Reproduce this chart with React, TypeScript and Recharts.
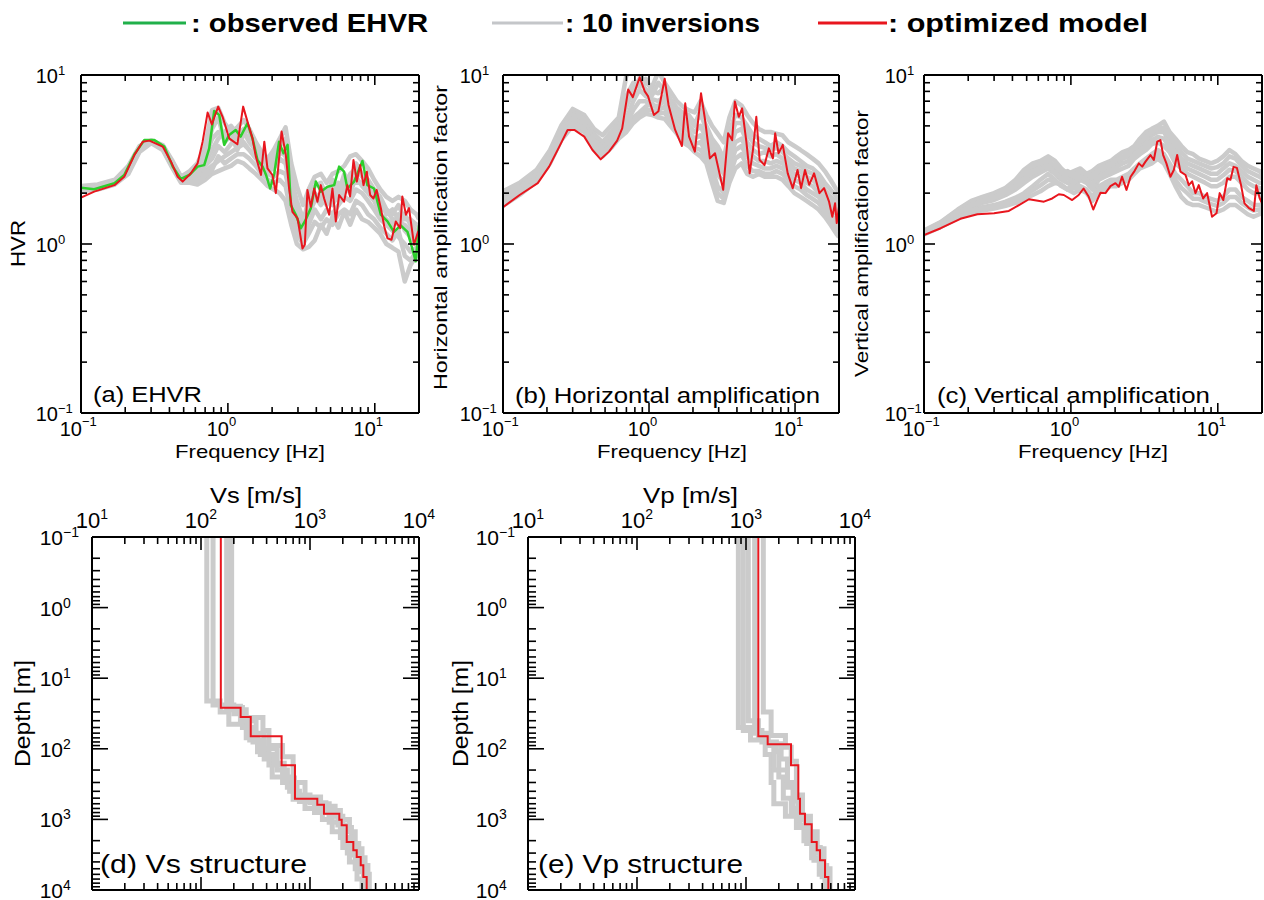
import React from "react";
import { LineChart, Line, XAxis, YAxis } from "recharts";

const FONT = '"Liberation Sans", Arial, Helvetica, sans-serif';
const RED = "#e8161e";
const GREEN = "#2ccf2c";
const GRAY = "#cbcbcb";
const frame = { stroke: "#000", strokeWidth: 2 };

// ---- tick values ----
const freqMajor = [0.1, 1, 10];
const freqTicks = [0.1, 0.2, 0.3, 0.4, 0.5, 0.6, 0.7, 0.8, 0.9, 1, 2, 3, 4, 5, 6, 7, 8, 9, 10, 20];
const ampMajor = [0.1, 1, 10];
const ampTicks = [0.1, 0.2, 0.3, 0.4, 0.5, 0.6, 0.7, 0.8, 0.9, 1, 2, 3, 4, 5, 6, 7, 8, 9, 10];
const velMajor = [10, 100, 1000, 10000];
const velTicks = [
  10, 20, 30, 40, 50, 60, 70, 80, 90, 100, 200, 300, 400, 500, 600, 700, 800, 900,
  1000, 2000, 3000, 4000, 5000, 6000, 7000, 8000, 9000, 10000,
];
const depthMajor = [0.1, 1, 10, 100, 1000, 10000];
const depthTicks = [
  0.1, 0.2, 0.3, 0.4, 0.5, 0.6, 0.7, 0.8, 0.9, 1, 2, 3, 4, 5, 6, 7, 8, 9,
  10, 20, 30, 40, 50, 60, 70, 80, 90, 100, 200, 300, 400, 500, 600, 700, 800, 900,
  1000, 2000, 3000, 4000, 5000, 6000, 7000, 8000, 9000, 10000,
];

// ---- (a) EHVR ----
const aObserved: [number, number][] = [
  [0.1, 2.15], [0.123, 2.11], [0.169, 2.29], [0.197, 2.56], [0.231, 3.4], [0.27, 4.12], [0.316, 4.12],
  [0.369, 3.77], [0.421, 2.87], [0.479, 2.43], [0.546, 2.56], [0.622, 2.87], [0.69, 2.93], [0.746, 3.68],
  [0.807, 6.12], [0.873, 5.8], [0.944, 3.86], [1.02, 4.42], [1.13, 4.73], [1.22, 4.32], [1.36, 5.18],
  [1.47, 4.22], [1.59, 3.14], [1.72, 2.87], [1.82, 2.56], [1.94, 2.13], [2.07, 2.62], [2.23, 4.03],
  [2.39, 3.44], [2.55, 3.86], [2.68, 1.7], [2.9, 1.49], [3.14, 1.24], [3.34, 1.36], [3.67, 1.63],
  [3.97, 2.34], [4.29, 2.04], [4.76, 2.18], [5.29, 2.23], [5.72, 2.87], [6.18, 2.68], [6.51, 2.13],
  [7.23, 2.34], [8.24, 3.1], [8.91, 2.23], [9.89, 2.13], [11.0, 1.49], [12.2, 1.36], [13.5, 1.18],
  [15.0, 1.29], [16.7, 1.18], [18.0, 0.94], [19.0, 0.79], [20, 1.29],
];
const aOptimized: [number, number][] = [
  [0.1, 1.88], [0.123, 2.04], [0.169, 2.23], [0.197, 2.5], [0.231, 3.36], [0.263, 4.03], [0.292, 4.09],
  [0.36, 3.77], [0.41, 3.07], [0.455, 2.5], [0.492, 2.34], [0.56, 2.62], [0.622, 3.0], [0.673, 4.03],
  [0.728, 6.0], [0.778, 5.1], [0.859, 6.5], [0.92, 5.66], [1.02, 4.22], [1.16, 3.89], [1.27, 6.5],
  [1.36, 5.3], [1.47, 4.22], [1.55, 3.29], [1.68, 2.56], [1.77, 4.03], [1.86, 2.8], [2.01, 2.56],
  [2.12, 2.0], [2.32, 4.63], [2.48, 3.36], [2.61, 2.13], [2.75, 1.55], [2.98, 1.42], [3.22, 0.94],
  [3.34, 0.99], [3.48, 2.09], [3.67, 1.66], [3.87, 2.13], [4.07, 1.78], [4.29, 2.23], [4.52, 1.86],
  [4.89, 1.49], [5.15, 2.13], [5.43, 1.36], [5.72, 1.95], [6.18, 1.78], [6.51, 2.23], [6.79, 1.91],
  [7.16, 3.14], [7.55, 2.34], [7.95, 2.93], [8.38, 2.23], [8.83, 2.68], [9.3, 1.95], [9.8, 1.86],
  [10.3, 2.09], [11.0, 1.63], [11.6, 1.27], [12.2, 1.08], [13.0, 1.06], [13.9, 1.36], [14.9, 1.24],
  [15.4, 1.91], [16.3, 1.49], [17.1, 1.63], [18.5, 0.99], [19.7, 1.18], [20, 1.2],
];

// frequencies shared by the gray inversion curves
const invFreq = [
  0.1, 0.13, 0.17, 0.21, 0.25, 0.3, 0.36, 0.42, 0.48, 0.55, 0.62, 0.7, 0.78, 0.86, 0.95, 1.05,
  1.16, 1.28, 1.4, 1.55, 1.7, 1.87, 2.05, 2.25, 2.47, 2.7, 2.95, 3.25, 3.55, 3.9, 4.3, 4.7,
  5.15, 5.65, 6.2, 6.8, 7.45, 8.2, 9.0, 9.9, 10.9, 12.0, 13.2, 14.5, 16.0, 17.5, 19.2, 20,
];

const aInversions = [
  [2.2, 2.25, 2.4, 2.9, 3.8, 4.1, 3.85, 3.1, 2.5, 2.7, 3.0, 3.8, 6.2, 6.4, 5.2, 4.6, 4.9, 5.4, 4.8, 4.0,
    3.5, 3.2, 3.6, 4.2, 4.9, 3.0, 2.2, 1.7, 2.1, 2.5, 2.6, 2.3, 2.6, 2.7, 2.9, 3.3, 3.4, 3.1, 2.8, 2.4,
    2.1, 1.9, 1.8, 1.9, 1.8, 1.6, 1.5, 1.4],
  [2.15, 2.2, 2.35, 2.8, 3.7, 4.05, 3.8, 3.0, 2.45, 2.55, 2.7, 3.0, 3.6, 4.2, 4.6, 5.0, 4.4, 4.8, 4.6, 3.8,
    3.2, 2.9, 3.1, 3.4, 3.6, 2.4, 1.8, 1.4, 1.7, 2.0, 1.8, 2.1, 1.9, 2.3, 2.2, 2.6, 2.8, 2.5, 2.3, 2.0,
    1.8, 1.5, 1.6, 1.4, 1.5, 1.3, 1.2, 1.25],
  [2.1, 2.15, 2.3, 2.7, 3.6, 4.0, 3.7, 2.9, 2.4, 2.4, 2.5, 2.7, 2.9, 3.1, 3.3, 3.5, 3.7, 3.9, 3.6, 3.2,
    2.9, 2.6, 2.5, 2.7, 2.6, 1.8, 1.3, 1.1, 1.3, 1.6, 1.4, 1.6, 1.5, 1.7, 1.9, 1.8, 2.1, 2.0, 1.8, 1.6,
    1.4, 1.3, 1.2, 1.1, 1.0, 0.9, 0.95, 1.0],
  [2.05, 2.1, 2.25, 2.6, 3.5, 3.95, 3.6, 2.8, 2.3, 2.3, 2.25, 2.4, 2.6, 2.7, 2.8, 2.9, 3.1, 3.0, 2.8, 2.6,
    2.4, 2.2, 2.1, 2.0, 1.8, 1.3, 1.0, 0.93, 0.96, 1.05, 1.3, 1.15, 1.45, 1.25, 1.55, 1.3, 1.6, 1.4, 1.35, 1.25,
    1.15, 1.0, 0.95, 0.9, 0.6, 0.75, 0.85, 0.9],
  [2.12, 2.18, 2.32, 2.75, 3.65, 4.0, 3.75, 2.95, 2.4, 2.5, 2.6, 2.9, 3.2, 3.8, 3.5, 3.9, 4.3, 4.0, 3.6, 3.3,
    3.0, 2.7, 2.8, 3.2, 3.0, 2.0, 1.5, 1.2, 1.5, 1.8, 2.0, 1.7, 2.1, 1.8, 2.3, 2.0, 2.5, 2.2, 2.0, 1.8,
    1.5, 1.4, 1.3, 1.5, 1.2, 1.1, 1.0, 1.1],
  [2.18, 2.22, 2.36, 2.85, 3.75, 4.08, 3.82, 3.05, 2.48, 2.65, 2.85, 3.4, 4.8, 5.6, 4.0, 4.4, 3.6, 4.5, 4.2, 3.5,
    3.3, 3.0, 3.3, 3.8, 4.2, 2.6, 1.6, 1.3, 1.9, 2.2, 2.3, 1.9, 2.4, 2.0, 2.6, 2.3, 3.0, 2.6, 2.4, 2.1,
    1.9, 1.6, 1.5, 1.7, 1.4, 1.4, 1.3, 1.3],
  [2.08, 2.12, 2.28, 2.65, 3.55, 3.98, 3.65, 2.85, 2.35, 2.35, 2.35, 2.55, 2.75, 3.3, 3.0, 3.2, 3.4, 3.4, 3.2, 2.9,
    2.6, 2.4, 2.3, 2.4, 2.2, 1.5, 1.15, 1.0, 1.15, 1.35, 1.25, 1.4, 1.3, 1.5, 1.6, 1.5, 1.8, 1.7, 1.5, 1.4,
    1.25, 1.15, 1.05, 1.2, 0.85, 0.8, 0.9, 0.95],
  [2.14, 2.2, 2.34, 2.78, 3.68, 4.02, 3.78, 2.98, 2.42, 2.45, 2.55, 3.2, 4.2, 4.6, 4.4, 4.2, 4.6, 4.6, 4.0, 3.6,
    3.1, 2.8, 3.0, 3.6, 3.3, 2.2, 1.7, 1.3, 1.6, 1.9, 1.7, 1.9, 1.7, 2.0, 2.0, 2.3, 2.3, 2.3, 2.1, 1.9,
    1.6, 1.6, 1.4, 1.3, 1.3, 1.2, 1.1, 1.2],
];

// ---- (b) horizontal amplification ----
const bOptimized: [number, number][] = [
  [0.1, 1.65], [0.13, 1.95], [0.173, 2.29], [0.207, 2.87], [0.243, 3.77], [0.277, 4.73], [0.308, 4.73],
  [0.36, 4.32], [0.41, 3.6], [0.467, 3.17], [0.532, 3.52], [0.605, 4.09], [0.655, 4.83], [0.72, 8.2],
  [0.775, 7.4], [0.863, 9.7], [0.935, 8.0], [0.984, 7.5], [1.08, 5.8], [1.16, 6.1], [1.28, 9.5],
  [1.36, 6.65], [1.51, 4.73], [1.68, 3.8], [1.77, 6.8], [1.88, 4.32], [2.06, 3.52], [2.27, 7.8],
  [2.42, 5.42], [2.61, 3.21], [2.83, 3.44], [3.22, 2.09], [3.48, 4.52], [3.71, 4.12], [3.87, 6.96],
  [4.12, 5.66], [4.34, 6.35], [4.64, 4.03], [4.89, 2.62], [5.15, 3.6], [5.43, 5.66], [5.72, 3.14],
  [6.18, 2.93], [6.62, 3.68], [7.05, 3.21], [7.31, 4.52], [7.71, 3.44], [8.24, 3.86], [8.91, 2.62],
  [9.64, 2.14], [10.4, 2.74], [11.0, 2.14], [11.7, 2.74], [12.5, 2.24], [13.5, 2.62], [14.7, 2.0],
  [15.8, 2.14], [17.1, 1.78], [18.0, 1.45], [18.8, 1.74], [19.3, 1.33], [20, 1.66],
];
const bInversions = [
  [2.05, 2.3, 2.75, 3.6, 5.0, 6.3, 5.8, 4.8, 4.4, 5.0, 5.6, 10, 10.5, 10, 9.0, 8.5, 10.5, 9.0, 8.0, 7.0,
    6.5, 6.2, 6.0, 7.0, 5.8, 5.0, 4.5, 4.0, 5.6, 7.0, 6.6, 5.8, 5.2, 4.8, 4.6, 4.6, 4.5, 4.4, 4.0, 3.8,
    3.6, 3.4, 3.2, 3.0, 2.7, 2.4, 2.1, 2.0],
  [1.95, 2.2, 2.65, 3.45, 4.8, 6.0, 5.6, 4.5, 4.0, 4.6, 5.2, 7.5, 9.0, 8.5, 9.5, 8.0, 7.8, 8.5, 7.2, 6.4,
    6.0, 5.8, 5.2, 5.8, 5.0, 4.2, 3.8, 3.2, 4.6, 5.8, 5.6, 5.0, 4.4, 4.2, 4.0, 3.8, 4.0, 3.8, 3.5, 3.3,
    3.1, 2.9, 2.8, 2.6, 2.3, 2.1, 1.9, 1.8],
  [1.85, 2.1, 2.55, 3.3, 4.6, 5.7, 5.4, 4.3, 3.9, 4.2, 4.6, 5.5, 7.0, 8.2, 7.5, 7.2, 7.0, 7.5, 6.5, 5.8,
    5.4, 5.0, 4.6, 5.0, 4.2, 3.6, 3.0, 2.6, 3.6, 4.6, 4.8, 4.0, 3.6, 3.4, 3.5, 3.3, 3.4, 3.2, 3.0, 2.8,
    2.7, 2.5, 2.4, 2.2, 2.0, 1.8, 1.6, 1.5],
  [1.75, 2.0, 2.45, 3.15, 4.4, 5.4, 5.0, 4.0, 3.6, 4.0, 4.5, 5.0, 5.6, 6.0, 6.5, 6.8, 6.2, 6.5, 5.6, 5.0,
    4.6, 4.2, 3.9, 4.0, 3.5, 2.8, 2.2, 2.0, 2.8, 3.6, 3.8, 3.3, 3.0, 2.9, 2.8, 2.8, 2.9, 2.8, 2.6, 2.4,
    2.3, 2.1, 2.0, 1.9, 1.7, 1.5, 1.35, 1.3],
  [1.68, 1.95, 2.35, 3.0, 4.1, 5.0, 4.6, 3.7, 3.3, 3.7, 4.2, 4.6, 5.2, 5.6, 5.9, 5.8, 5.6, 5.5, 5.0, 4.5,
    4.0, 3.8, 3.5, 3.3, 3.0, 2.3, 1.8, 1.75, 2.3, 2.8, 3.0, 2.6, 2.5, 2.6, 2.5, 2.5, 2.5, 2.4, 2.2, 2.0,
    1.9, 1.8, 1.7, 1.6, 1.45, 1.3, 1.15, 1.1],
  [1.9, 2.15, 2.6, 3.4, 4.7, 5.85, 5.5, 4.4, 3.95, 4.4, 4.9, 6.5, 8.0, 9.5, 8.2, 7.6, 9.0, 8.0, 6.8, 6.0,
    5.6, 5.4, 5.0, 6.2, 4.6, 3.9, 3.4, 2.9, 4.0, 5.2, 5.2, 4.5, 4.0, 3.8, 3.7, 3.6, 3.7, 3.5, 3.2, 3.0,
    2.9, 2.7, 2.6, 2.4, 2.1, 1.9, 1.75, 1.65],
  [1.8, 2.05, 2.5, 3.2, 4.5, 5.5, 5.2, 4.1, 3.75, 4.1, 4.6, 5.2, 6.2, 7.0, 7.0, 6.5, 6.6, 7.0, 6.0, 5.4,
    5.0, 4.6, 4.2, 4.4, 3.8, 3.2, 2.6, 2.3, 3.2, 4.0, 4.2, 3.6, 3.3, 3.1, 3.1, 3.0, 3.1, 3.0, 2.8, 2.6,
    2.5, 2.3, 2.2, 2.0, 1.85, 1.65, 1.5, 1.4],
  [1.72, 1.98, 2.4, 3.1, 4.25, 5.2, 4.8, 3.85, 3.45, 3.85, 4.3, 4.8, 5.4, 5.8, 6.2, 6.2, 5.9, 6.0, 5.3, 4.7,
    4.3, 4.0, 3.7, 3.6, 3.2, 2.5, 2.0, 1.85, 2.5, 3.2, 3.4, 2.9, 2.7, 2.7, 2.6, 2.6, 2.7, 2.6, 2.4, 2.2,
    2.1, 1.95, 1.85, 1.75, 1.55, 1.4, 1.25, 1.2],
];

// ---- (c) vertical amplification ----
const cOptimized: [number, number][] = [
  [0.1, 1.13], [0.13, 1.24], [0.177, 1.41], [0.231, 1.5], [0.3, 1.52], [0.378, 1.57], [0.443, 1.7],
  [0.518, 1.84], [0.655, 1.78], [0.746, 1.86], [0.828, 1.97], [0.895, 1.95], [1.02, 1.82], [1.13, 1.95],
  [1.22, 2.13], [1.32, 1.91], [1.42, 1.6], [1.51, 1.82], [1.59, 2.01], [1.72, 2.0], [1.86, 2.2],
  [2.01, 2.29], [2.12, 2.18], [2.23, 2.5], [2.39, 2.09], [2.55, 2.5], [2.71, 2.7], [2.9, 3.0],
  [3.06, 2.87], [3.22, 3.07], [3.48, 3.36], [3.67, 3.14], [3.87, 4.03], [4.07, 4.12], [4.25, 3.36],
  [4.47, 3.0], [4.76, 2.5], [5.02, 2.74], [5.29, 3.36], [5.57, 2.68], [6.03, 2.56], [6.35, 2.23],
  [6.69, 2.35], [7.05, 2.0], [7.42, 2.23], [7.95, 1.86], [8.46, 2.0], [9.14, 1.45], [9.8, 1.52],
  [10.3, 2.0], [10.9, 1.82], [11.6, 2.45], [12.2, 2.4], [12.8, 2.86], [13.5, 2.82], [14.4, 2.23],
  [15.2, 1.74], [16.3, 1.63], [17.6, 1.57], [18.3, 2.23], [19.3, 1.86], [20, 1.74],
];
const cInversions = [
  [1.2, 1.35, 1.6, 1.8, 1.9, 2.0, 2.15, 2.4, 2.75, 3.0, 3.1, 3.3, 3.1, 2.8, 2.6, 2.7, 2.8, 2.6, 2.7, 2.9,
    3.0, 3.1, 3.3, 3.5, 3.6, 3.8, 4.2, 4.6, 4.8, 5.0, 5.3, 4.6, 4.2, 3.8, 3.5, 3.4, 3.2, 3.1, 3.0, 3.1,
    3.3, 3.6, 3.4, 3.1, 2.9, 2.8, 2.7, 2.6],
  [1.18, 1.32, 1.55, 1.75, 1.85, 1.95, 2.1, 2.3, 2.6, 2.75, 2.9, 3.0, 2.7, 2.5, 2.6, 2.4, 2.6, 2.5, 2.4, 2.6,
    2.7, 2.9, 3.0, 3.2, 3.3, 3.6, 3.8, 4.0, 4.4, 4.6, 4.6, 4.0, 3.6, 3.2, 3.0, 2.9, 2.8, 2.7, 2.6, 2.6,
    2.8, 3.0, 2.9, 2.7, 2.5, 2.4, 2.3, 2.3],
  [1.16, 1.3, 1.5, 1.65, 1.75, 1.82, 1.95, 2.1, 2.3, 2.5, 2.65, 2.8, 2.6, 2.4, 2.3, 2.2, 2.4, 2.3, 2.1, 2.4,
    2.5, 2.6, 2.7, 2.8, 2.9, 3.2, 3.4, 3.6, 3.9, 4.0, 3.8, 3.5, 3.0, 2.8, 2.6, 2.5, 2.4, 2.3, 2.2, 2.2,
    2.3, 2.5, 2.5, 2.3, 2.1, 2.0, 2.0, 1.9],
  [1.15, 1.28, 1.45, 1.58, 1.65, 1.7, 1.78, 1.88, 2.0, 2.2, 2.4, 2.6, 2.4, 2.2, 2.1, 2.3, 2.2, 2.1, 1.9, 2.2,
    2.3, 2.4, 2.4, 2.5, 2.6, 2.8, 3.0, 3.2, 3.4, 3.6, 3.4, 3.0, 2.6, 2.4, 2.2, 2.0, 2.0, 1.9, 1.85, 1.8,
    1.9, 2.1, 2.1, 1.9, 1.8, 1.7, 1.7, 1.7],
  [1.14, 1.26, 1.42, 1.52, 1.58, 1.62, 1.68, 1.75, 1.85, 1.95, 2.05, 2.2, 2.3, 2.25, 2.1, 2.0, 2.1, 2.0, 1.8, 2.0,
    2.1, 2.2, 2.2, 2.3, 2.4, 2.6, 2.8, 2.9, 3.0, 3.2, 3.0, 2.6, 2.2, 1.9, 1.75, 1.7, 1.7, 1.65, 1.6, 1.55,
    1.6, 1.7, 1.7, 1.6, 1.5, 1.45, 1.5, 1.55],
  [1.19, 1.34, 1.58, 1.78, 1.88, 1.98, 2.12, 2.35, 2.7, 2.9, 3.0, 3.1, 2.9, 2.65, 2.7, 2.55, 2.7, 2.55, 2.55, 2.75,
    2.85, 3.0, 3.15, 3.3, 3.45, 3.7, 4.0, 4.3, 4.6, 4.8, 4.9, 4.3, 3.9, 3.5, 3.2, 3.1, 3.0, 2.9, 2.8, 2.85,
    3.0, 3.3, 3.2, 2.9, 2.7, 2.6, 2.5, 2.45],
  [1.17, 1.31, 1.52, 1.7, 1.8, 1.88, 2.02, 2.2, 2.45, 2.62, 2.78, 2.9, 2.65, 2.45, 2.45, 2.3, 2.5, 2.4, 2.25, 2.5,
    2.6, 2.75, 2.85, 3.0, 3.1, 3.4, 3.6, 3.8, 4.1, 4.3, 4.2, 3.7, 3.3, 3.0, 2.8, 2.7, 2.6, 2.5, 2.4, 2.4,
    2.55, 2.75, 2.7, 2.5, 2.3, 2.2, 2.15, 2.1],
  [1.15, 1.27, 1.44, 1.55, 1.62, 1.66, 1.73, 1.82, 1.92, 2.08, 2.22, 2.4, 2.35, 2.22, 2.1, 2.15, 2.15, 2.05, 1.85, 2.1,
    2.2, 2.3, 2.3, 2.4, 2.5, 2.7, 2.9, 3.05, 3.2, 3.4, 3.2, 2.8, 2.4, 2.15, 2.0, 1.85, 1.85, 1.78, 1.72, 1.68,
    1.75, 1.9, 1.9, 1.75, 1.65, 1.58, 1.6, 1.62],
];

// ---- (d) Vs, (e) Vp layered models: [velocity m/s, layer bottom depth m] ----
const SURFACE = 0.1;
const vsOptimized: [number, number][] = [
  [152, 26.2], [231, 35.5], [286, 66.5], [549, 171], [728, 508], [1167, 618], [1343, 829], [1857, 1009],
  [1953, 1212], [2172, 2089], [2497, 2740], [2683, 3407], [2919, 4468], [3085, 6546], [3311, 10000],
];
const vsInversions: [number, number][][] = [
  [[113, 21], [150, 30], [180, 45], [260, 70], [330, 110], [420, 170], [560, 300], [700, 520], [900, 700],
    [1300, 1000], [1600, 1500], [2000, 2500], [2300, 4000], [2700, 7000], [3000, 10000]],
  [[129, 24], [200, 32], [240, 50], [300, 80], [380, 140], [450, 250], [650, 400], [800, 560], [1100, 800],
    [1500, 1100], [1900, 1800], [2200, 3000], [2600, 5000], [3100, 10000]],
  [[185, 28], [260, 36], [370, 55], [420, 90], [560, 130], [700, 300], [900, 480], [1250, 650], [1700, 900],
    [2000, 1300], [2400, 2200], [2800, 3500], [3200, 6000], [3500, 10000]],
  [[191, 25], [230, 40], [320, 60], [380, 100], [500, 200], [620, 350], [760, 500], [1100, 600], [1500, 850],
    [1800, 1200], [2100, 2000], [2500, 3200], [2900, 5500], [3300, 10000]],
  [[172, 26], [240, 38], [280, 75], [350, 120], [470, 160], [580, 260], [720, 450], [1000, 580], [1400, 750],
    [1900, 1000], [2300, 1500], [2600, 2600], [3000, 4500], [3400, 10000]],
];
const vpOptimized: [number, number][] = [
  [1297, 66.5], [1581, 86.4], [2588, 171], [3020, 508], [3127, 829], [3475, 1172], [4004, 2089],
  [4454, 2740], [4777, 3794], [5309, 6546], [5694, 10000],
];
const vpInversions: [number, number][][] = [
  [[851, 50], [1100, 75], [1500, 120], [1700, 300], [1800, 600], [2300, 900], [2900, 1300], [3400, 2000],
    [4000, 3500], [4700, 6000], [5300, 10000]],
  [[945, 55], [1400, 80], [1900, 110], [2000, 250], [2200, 500], [2600, 800], [3100, 1200], [3600, 2200],
    [4200, 3800], [5000, 6500], [5600, 10000]],
  [[1050, 40], [1300, 70], [1600, 90], [1800, 200], [2400, 350], [2700, 700], [3200, 1000], [3700, 1800],
    [4300, 3000], [5000, 5500], [5800, 10000]],
  [[1442, 30], [1700, 65], [2300, 95], [2600, 150], [2900, 450], [3300, 900], [3900, 1500], [4500, 2600],
    [5200, 5000], [5900, 10000]],
  [[1200, 60], [1550, 85], [2100, 140], [2400, 300], [2800, 550], [3000, 1000], [3500, 1600], [4100, 2500],
    [4800, 4500], [5500, 10000]],
];

// ---- helpers ----
const pairs = (rows: [number, number][]) => rows.map(([f, y]) => ({ f, y }));
const onGrid = (vals: number[]) => invFreq.map((f, i) => ({ f, y: vals[i] }));
const stepProfile = (layers: [number, number][]) => {
  const pts: { v: number; y: number }[] = [];
  let top = SURFACE;
  for (const [v, bottom] of layers) {
    pts.push({ v, y: top });
    pts.push({ v, y: bottom });
    top = bottom;
  }
  return pts;
};

const isMajor = (list: number[], v: number) => list.some((m) => Math.abs(v / m - 1) < 1e-6);
const expOf = (v: number) => {
  const e = Math.round(Math.log10(v));
  return e < 0 ? "\u2212" + -e : String(e);
};
const tl = { stroke: "#000", strokeWidth: 1.6 };

type Side = "bottom" | "top" | "left" | "right";
type LabelKind = "none" | "below" | "above" | "left";

function makeTick(side: Side, majors: number[], big: number, small: number, kind: LabelKind, off = 0, fs = 20, es = 13) {
  return (props: any) => {
    const { x, y, payload } = props;
    const v = payload.value;
    const major = isMajor(majors, v);
    const len = major ? big : small;
    let line;
    if (side === "bottom") line = <line x1={x} y1={y} x2={x} y2={y - len} {...tl} />;
    else if (side === "top") line = <line x1={x} y1={y} x2={x} y2={y + len} {...tl} />;
    else if (side === "left") line = <line x1={x} y1={y} x2={x + len} y2={y} {...tl} />;
    else line = <line x1={x} y1={y} x2={x - len} y2={y} {...tl} />;
    let label = null;
    if (major && kind === "below") {
      label = (
        <g fontFamily={FONT} fill="#000">
          <text x={x + 1} y={y + 23} fontSize={fs} textAnchor="end">10</text>
          <text x={x + 1} y={y + 13} fontSize={es} textAnchor="start">{expOf(v)}</text>
        </g>
      );
    } else if (major && kind === "above") {
      label = (
        <text x={x} y={y - 9} textAnchor="middle" fontFamily={FONT} fill="#000">
          <tspan fontSize={fs}>10</tspan>
          <tspan fontSize={es} dy={-9}>{expOf(v)}</tspan>
        </text>
      );
    } else if (major && kind === "left") {
      // the lowest label sits a little above its tick so it stays inside the figure
      const base = Math.min(y + 8, 887);
      label = (
        <g fontFamily={FONT} fill="#000">
          <text x={x - off} y={base} fontSize={fs} textAnchor="end">10</text>
          <text x={x - off} y={base - 8} fontSize={es} textAnchor="start">{expOf(v)}</text>
        </g>
      );
    }
    return (
      <g>
        {line}
        {label}
      </g>
    );
  };
}

const axisCommon = {
  type: "number" as const,
  scale: "log" as const,
  allowDataOverflow: true,
  interval: 0 as const,
  tickSize: 0,
  tickMargin: 0,
  tickLine: false,
  axisLine: frame,
};

interface SpecProps {
  left: number;
  width: number;
  mLeft: number;
  mRight: number;
  labelOff: number;
  inversions: number[][];
  optimized: [number, number][];
  observed?: [number, number][];
}

// axes are 1px thick, so margins are one pixel smaller than the plot offsets
function SpectrumPanel({ left, width, mLeft, mRight, labelOff, inversions, optimized, observed }: SpecProps) {
  return (
    <div style={{ position: "absolute", left, top: 55 }}>
      <LineChart width={width} height={410} margin={{ top: 19, right: mRight - 1, bottom: 51, left: mLeft - 1 }}>
        <XAxis {...axisCommon} xAxisId="b" dataKey="f" domain={[0.1, 20]} ticks={freqTicks} height={1}
          tick={makeTick("bottom", freqMajor, 10, 6, "below")} />
        <XAxis {...axisCommon} xAxisId="t" orientation="top" dataKey="f" domain={[0.1, 20]} ticks={freqTicks} height={1}
          tick={makeTick("top", freqMajor, 10, 6, "none")} />
        <YAxis {...axisCommon} yAxisId="l" domain={[0.1, 10]} ticks={ampTicks} width={1}
          tick={makeTick("left", ampMajor, 11, 6, "left", labelOff)} />
        <YAxis {...axisCommon} yAxisId="r" orientation="right" domain={[0.1, 10]} ticks={ampTicks} width={1}
          tick={makeTick("right", ampMajor, 11, 6, "none")} />
        {inversions.map((vals, i) => (
          <Line key={"g" + i} data={onGrid(vals)} xAxisId="b" yAxisId="l" dataKey="y" stroke={GRAY}
            strokeWidth={4.5} dot={false} isAnimationActive={false} strokeLinejoin="round" />
        ))}
        {observed && (
          <Line data={pairs(observed)} xAxisId="b" yAxisId="l" dataKey="y" stroke={GREEN} strokeWidth={2.5}
            dot={false} isAnimationActive={false} strokeLinejoin="round" />
        )}
        <Line data={pairs(optimized)} xAxisId="b" yAxisId="l" dataKey="y" stroke={RED} strokeWidth={2}
          dot={false} isAnimationActive={false} strokeLinejoin="round" />
      </LineChart>
    </div>
  );
}

interface ProfProps {
  left: number;
  mLeft: number;
  mRight: number;
  inversions: [number, number][][];
  optimized: [number, number][];
}

function ProfilePanel({ left, mLeft, mRight, inversions, optimized }: ProfProps) {
  return (
    <div style={{ position: "absolute", left, top: 470 }}>
      <LineChart width={440} height={430} margin={{ top: 66, right: mRight - 1, bottom: 9, left: mLeft - 1 }}>
        <XAxis {...axisCommon} xAxisId="t" orientation="top" dataKey="v" domain={[10, 10000]} ticks={velTicks}
          height={1} tick={makeTick("top", velMajor, 13, 7, "above", 0, 22, 14)} />
        <XAxis {...axisCommon} xAxisId="b" dataKey="v" domain={[10, 10000]} ticks={velTicks} height={1}
          tick={makeTick("bottom", velMajor, 13, 7, "none")} />
        <YAxis {...axisCommon} yAxisId="l" reversed domain={[0.1, 10000]} ticks={depthTicks} width={1}
          tick={makeTick("left", depthMajor, 16, 8, "left", 29, 21, 14)} />
        <YAxis {...axisCommon} yAxisId="r" orientation="right" reversed domain={[0.1, 10000]} ticks={depthTicks}
          width={1} tick={makeTick("right", depthMajor, 16, 8, "none")} />
        {inversions.map((layers, i) => (
          <Line key={"g" + i} data={stepProfile(layers)} xAxisId="t" yAxisId="l" dataKey="y" stroke={GRAY}
            strokeWidth={5} dot={false} isAnimationActive={false} />
        ))}
        <Line data={stepProfile(optimized)} xAxisId="t" yAxisId="l" dataKey="y" stroke={RED} strokeWidth={2}
          dot={false} isAnimationActive={false} />
      </LineChart>
    </div>
  );
}

function Overlay() {
  const t = { fontFamily: FONT, fill: "#000" };
  return (
    <svg width={1264} height={900} style={{ position: "absolute", left: 0, top: 0, pointerEvents: "none" }}>
      {/* legend */}
      <line x1={123} y1={23} x2={186} y2={23} stroke="#20b04a" strokeWidth={3} />
      <text x={191} y={32} {...t} fontSize={26} fontWeight="bold" textLength={237} lengthAdjust="spacingAndGlyphs">
        : observed EHVR
      </text>
      <line x1={492} y1={23} x2={563} y2={23} stroke="#c4c6c9" strokeWidth={3} />
      <text x={565} y={32} {...t} fontSize={26} fontWeight="bold" textLength={195} lengthAdjust="spacingAndGlyphs">
        : 10 inversions
      </text>
      <line x1={818} y1={23} x2={887} y2={23} stroke={RED} strokeWidth={3} />
      <text x={888} y={32} {...t} fontSize={26} fontWeight="bold" textLength={260} lengthAdjust="spacingAndGlyphs">
        : optimized model
      </text>

      {/* axis titles */}
      <text x={175} y={458} {...t} fontSize={19} textLength={150} lengthAdjust="spacingAndGlyphs">Frequency [Hz]</text>
      <text x={597} y={458} {...t} fontSize={19} textLength={150} lengthAdjust="spacingAndGlyphs">Frequency [Hz]</text>
      <text x={1018} y={458} {...t} fontSize={19} textLength={150} lengthAdjust="spacingAndGlyphs">Frequency [Hz]</text>
      <text transform="translate(25,267) rotate(-90)" {...t} fontSize={20} textLength={47} lengthAdjust="spacingAndGlyphs">HVR</text>
      <text transform="translate(447,390) rotate(-90)" {...t} fontSize={18} textLength={305} lengthAdjust="spacingAndGlyphs">
        Horizontal amplification factor
      </text>
      <text transform="translate(868,377) rotate(-90)" {...t} fontSize={18} textLength={267} lengthAdjust="spacingAndGlyphs">
        Vertical amplification factor
      </text>
      <text x={210} y={503} {...t} fontSize={22} textLength={92} lengthAdjust="spacingAndGlyphs">Vs [m/s]</text>
      <text x={643} y={503} {...t} fontSize={22} textLength={95} lengthAdjust="spacingAndGlyphs">Vp [m/s]</text>
      <text transform="translate(30,767) rotate(-90)" {...t} fontSize={22} textLength={107} lengthAdjust="spacingAndGlyphs">Depth [m]</text>
      <text transform="translate(468,767) rotate(-90)" {...t} fontSize={22} textLength={107} lengthAdjust="spacingAndGlyphs">Depth [m]</text>

      {/* panel labels */}
      <text x={93} y={402} {...t} fontSize={22} textLength={109} lengthAdjust="spacingAndGlyphs">(a) EHVR</text>
      <text x={515} y={403} {...t} fontSize={22} textLength={305} lengthAdjust="spacingAndGlyphs">(b) Horizontal amplification</text>
      <text x={937} y={403} {...t} fontSize={22} textLength={273} lengthAdjust="spacingAndGlyphs">(c) Vertical amplification</text>
      <text x={100} y={873} {...t} fontSize={25} textLength={207} lengthAdjust="spacingAndGlyphs">(d) Vs structure</text>
      <text x={538} y={873} {...t} fontSize={25} textLength={205} lengthAdjust="spacingAndGlyphs">(e) Vp structure</text>
    </svg>
  );
}

export default function App() {
  return (
    <div style={{ position: "absolute", left: 0, top: 0, width: 1264, height: 900, background: "#fff", overflow: "hidden" }}>
      <SpectrumPanel left={0} width={430} mLeft={81} mRight={11} labelOff={23}
        inversions={aInversions} optimized={aOptimized} observed={aObserved} />
      <SpectrumPanel left={430} width={420} mLeft={73} mRight={11} labelOff={21}
        inversions={bInversions} optimized={bOptimized} />
      <SpectrumPanel left={850} width={414} mLeft={74} mRight={2} labelOff={17}
        inversions={cInversions} optimized={cOptimized} />
      <ProfilePanel left={0} mLeft={92} mRight={21} inversions={vsInversions} optimized={vsOptimized} />
      <ProfilePanel left={440} mLeft={88} mRight={25} inversions={vpInversions} optimized={vpOptimized} />
      <Overlay />
    </div>
  );
}
